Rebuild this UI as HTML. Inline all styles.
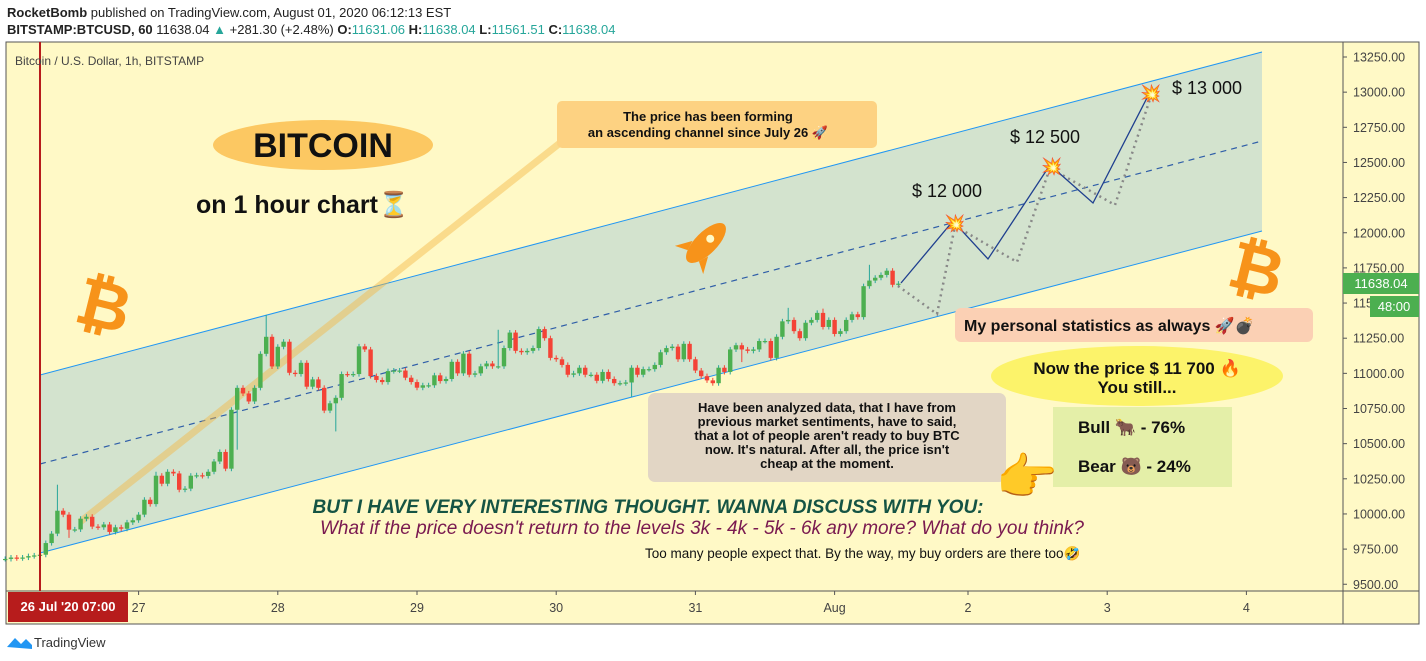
<!DOCTYPE html>
<html><head><meta charset="utf-8">
<style>
body{margin:0;width:1426px;height:661px;background:#fff;font-family:"Liberation Sans","Noto Sans CJK JP",sans-serif;overflow:hidden;position:relative}
.t{position:absolute;white-space:nowrap}
</style></head><body>
<div class="t" style="left:7px;top:5px;font-size:13px;color:#222"><b>RocketBomb</b> published on TradingView.com, August 01, 2020 06:12:13 EST</div>
<div class="t" style="left:7px;top:22px;font-size:13px;color:#222"><b>BITSTAMP:BTCUSD, 60</b> 11638.04 <span style="color:#26a69a">▲</span> +281.30 (+2.48%) <b>O:</b><span style="color:#26a69a">11631.06</span> <b>H:</b><span style="color:#26a69a">11638.04</span> <b>L:</b><span style="color:#26a69a">11561.51</span> <b>C:</b><span style="color:#26a69a">11638.04</span></div>
<svg id="chart" width="1426" height="661" style="position:absolute;left:0;top:0" xmlns="http://www.w3.org/2000/svg" font-family="Liberation Sans, Noto Sans CJK JP, sans-serif">
<rect x="6" y="42" width="1413" height="582" fill="#fff9c6" stroke="#555" stroke-width="1"/>
<line x1="1343" y1="42" x2="1343" y2="624" stroke="#555"/>
<line x1="6" y1="591" x2="1419" y2="591" stroke="#555"/>
<polygon points="40,375 1262,52 1262,231 40,553" fill="#d3e3ce"/>
<line x1="40" y1="375" x2="1262" y2="52" stroke="#2196f3" stroke-width="1"/>
<line x1="40" y1="553" x2="1262" y2="231" stroke="#2196f3" stroke-width="1"/>
<line x1="40" y1="464" x2="1262" y2="141" stroke="#2f5ea8" stroke-width="1.2" stroke-dasharray="6,5"/>
<line x1="80" y1="522" x2="560" y2="143" stroke="#f5b642" stroke-opacity="0.45" stroke-width="7"/>
<g id="candles"></g>
<line x1="40" y1="42" x2="40" y2="591" stroke="#b71c1c" stroke-width="2"/>
<g id="axes"></g>
<polyline points="898,286 937,314 955,226 1017,262 1050,168 1115,205 1152,93" fill="none" stroke="#888" stroke-width="2.5" stroke-dasharray="2,4"/>
<polyline points="901,283 953,221 988,259 1050,165 1093,203 1150,92" fill="none" stroke="#1f3f8f" stroke-width="1.3"/>
<g><text x="955" y="229" font-size="17" text-anchor="middle">💥</text><text x="912" y="197" font-size="18" fill="#111">$ 12 000</text></g>
<g><text x="1052" y="172" font-size="17" text-anchor="middle">💥</text><text x="1010" y="143" font-size="18" fill="#111">$ 12 500</text></g>
<g><text x="1151" y="99" font-size="17" text-anchor="middle">💥</text><text x="1172" y="94" font-size="18" fill="#111">$ 13 000</text></g>
<ellipse cx="323" cy="145" rx="110" ry="25" fill="#fcc862"/>
<text x="323" y="157" font-size="34" font-weight="bold" text-anchor="middle" fill="#111">BITCOIN</text>
<text x="196" y="213" font-size="25" font-weight="bold" fill="#111">on 1 hour chart⏳</text>
<text x="104" y="328" font-size="66" font-weight="bold" fill="#f7931a" text-anchor="middle" transform="rotate(14 104 305)">₿</text>
<text x="1257" y="292" font-size="66" font-weight="bold" fill="#f7931a" text-anchor="middle" transform="rotate(14 1257 268)">₿</text>
<g transform="translate(706,243) rotate(45)"><ellipse cx="0" cy="0" rx="11" ry="26" fill="#f7931a"/><polygon points="-11,8 -20,24 -8,18" fill="#f7931a"/><polygon points="11,8 20,24 8,18" fill="#f7931a"/><circle cx="0" cy="-6" r="4" fill="#fff9c6"/></g>
<rect x="557" y="101" width="320" height="47" rx="5" fill="#fdd282"/>
<text x="708" y="121" font-size="13" font-weight="bold" text-anchor="middle" fill="#111">The price has been forming</text>
<text x="708" y="137" font-size="13" font-weight="bold" text-anchor="middle" fill="#111">an ascending channel since July 26 🚀</text>
<rect x="955" y="308" width="358" height="34" rx="6" fill="#fbd0b4"/>
<text x="964" y="331" font-size="16" font-weight="bold" fill="#111">My personal statistics as always 🚀💣</text>
<ellipse cx="1137" cy="376" rx="146" ry="30" fill="#fcf36a"/>
<text x="1137" y="374" font-size="17" font-weight="bold" text-anchor="middle" fill="#111">Now the price $ 11 700 🔥</text>
<text x="1137" y="393" font-size="17" font-weight="bold" text-anchor="middle" fill="#111">You still...</text>
<rect x="1053" y="407" width="179" height="80" fill="#e4efa8"/>
<text x="1078" y="433" font-size="17" font-weight="bold" fill="#111">Bull 🐂 -  76%</text>
<text x="1078" y="472" font-size="17" font-weight="bold" fill="#111">Bear 🐻 - 24%</text>
<rect x="648" y="393" width="358" height="89" rx="7" fill="#e2d6c5"/>
<g font-size="13" font-weight="bold" fill="#111" text-anchor="middle">
<text x="827" y="412">Have been analyzed data, that I have from</text>
<text x="827" y="426">previous market sentiments, have to said,</text>
<text x="827" y="440">that a lot of people aren't ready to buy BTC</text>
<text x="827" y="454">now. It's natural. After all, the price isn't</text>
<text x="827" y="468">cheap at the moment.</text>
</g>
<text x="1027" y="494" font-size="50" text-anchor="middle">👉</text>
<text x="648" y="513" font-size="19" font-weight="bold" font-style="italic" text-anchor="middle" fill="#155444">BUT I HAVE  VERY INTERESTING THOUGHT. WANNA DISCUSS WITH YOU:</text>
<text x="702" y="534" font-size="19" font-style="italic" text-anchor="middle" fill="#7a1a50">What if the price doesn't return to the levels 3k - 4k - 5k - 6k any more? What do you think?</text>
<text x="645" y="558" font-size="13.5" fill="#111">Too many people expect that. By the way, my buy orders are there too🤣</text>
<text x="15" y="65" font-size="12" fill="#444">Bitcoin / U.S. Dollar, 1h, BITSTAMP</text>
<rect x="8" y="592" width="120" height="30" fill="#b71c1c"/>
<text x="68" y="611" font-size="13" font-weight="bold" fill="#fff" text-anchor="middle">26 Jul '20   07:00</text>
<rect x="1343" y="273" width="76" height="21" fill="#4caf50"/>
<text x="1381" y="288" font-size="13" fill="#fff" text-anchor="middle">11638.04</text>
<rect x="1370" y="296" width="49" height="21" fill="#4caf50"/>
<text x="1394" y="311" font-size="13" fill="#fff" text-anchor="middle">48:00</text>
<g><path d="M7,647 l8,-9 l6,6 l5,-5 l6,6 v4 z" fill="#2196f3"/><text x="34" y="647" font-size="13" fill="#333">TradingView</text></g>
</svg>
<script>
const closes=[9680,9690,9685,9690,9700,9705,9710,9793,9860,10023,9995,9888,9890,9966,9980,9910,9905,9925,9872,9905,9895,9940,9955,9995,10101,10070,10272,10215,10300,10288,10172,10180,10272,10275,10270,10300,10373,10441,10322,10741,10897,10857,10800,10897,11139,11260,11049,11189,11225,11004,10995,11075,10905,10957,10897,10735,10787,10826,10995,10992,10995,11192,11170,10981,10953,10938,11016,11020,11020,10969,10938,10898,10915,10915,10986,10945,10960,11082,11000,11140,10990,11000,11050,11070,11050,11050,11180,11290,11160,11150,11160,11180,11315,11250,11110,11100,11060,10990,11000,11040,10990,10990,10947,11010,10960,10930,10930,10935,11040,10990,11030,11030,11060,11150,11180,11190,11100,11210,11100,11020,10980,10950,10930,11040,11010,11170,11200,11170,11160,11170,11230,11230,11110,11260,11370,11380,11300,11250,11360,11380,11430,11330,11380,11280,11300,11380,11420,11400,11620,11660,11680,11700,11730,11630,11638];
const firstHour=-6;
const spikeHighs=[[3,10208],[20,10300],[39,11416],[79,11310],[129,11466],[143,11772],[135,11460]];
const spikeLows=[[5,9830],[34,10457],[51,10587],[102,10833],[121,11080]];
const priceTicks=[13250,13000,12750,12500,12250,12000,11750,11500,11250,11000,10750,10500,10250,10000,9750,9500];
const dayLabels=["27","28","29","30","31","Aug","2","3","4"];
const dayHours=[17,41,65,89,113,137,160,184,208];
const NS="http://www.w3.org/2000/svg";
function yOf(p){return 57+(13250-p)/250*35.15;}
function xOf(h){return 40+h*5.8;}
const cg=document.getElementById('candles');
const hiMap={},loMap={};
spikeHighs.forEach(s=>hiMap[s[0]]=s[1]);spikeLows.forEach(s=>loMap[s[0]]=s[1]);
for(let i=0;i<closes.length;i++){
 const h=firstHour+i,c=closes[i],o=i>0?closes[i-1]:c;
 const up=c>=o,col=up?'#4caf50':'#f44336';
 const hi=hiMap[h]!==undefined?hiMap[h]:Math.max(o,c)+18;
 const lo=loMap[h]!==undefined?loMap[h]:Math.min(o,c)-18;
 const x=xOf(h);
 const w=document.createElementNS(NS,'line');
 
 
 w.setAttribute('x1',x);w.setAttribute('x2',x);w.setAttribute('y1',yOf(hi));w.setAttribute('y2',yOf(lo));w.setAttribute('stroke',up?'#26a69a':'#f44336');
 cg.appendChild(w);
 const r=document.createElementNS(NS,'rect');
 
 
 const t=yOf(Math.max(o,c)),b=yOf(Math.min(o,c));
 r.setAttribute('x',x-2.2);r.setAttribute('width',4.4);r.setAttribute('y',t);r.setAttribute('height',Math.max(1.2,b-t));r.setAttribute('fill',col);
 cg.appendChild(r);
}
const ag=document.getElementById('axes');
priceTicks.forEach(p=>{
 const y=yOf(p);
 const l=document.createElementNS(NS,'line');
 
 
 l.setAttribute('x1',1343);l.setAttribute('x2',1347);l.setAttribute('y1',y);l.setAttribute('y2',y);l.setAttribute('stroke','#555');
 ag.appendChild(l);
 const t=document.createElementNS(NS,'text');
 
 
 t.setAttribute('x',1353);t.setAttribute('y',y+4.5);t.setAttribute('font-size','12.5');t.setAttribute('fill','#444');
 t.textContent=p.toFixed(2);ag.appendChild(t);
});
dayLabels.forEach((d,i)=>{
 const x=xOf(dayHours[i]);
 const l=document.createElementNS(NS,'line');
 
 
 l.setAttribute('x1',x);l.setAttribute('x2',x);l.setAttribute('y1',591);l.setAttribute('y2',595);l.setAttribute('stroke','#555');
 ag.appendChild(l);
 const t=document.createElementNS(NS,'text');
 
 
 t.setAttribute('x',x);t.setAttribute('y',612);t.setAttribute('font-size','12.5');t.setAttribute('fill','#444');t.setAttribute('text-anchor','middle');
 t.textContent=d;ag.appendChild(t);
});
</script>
</body></html>
